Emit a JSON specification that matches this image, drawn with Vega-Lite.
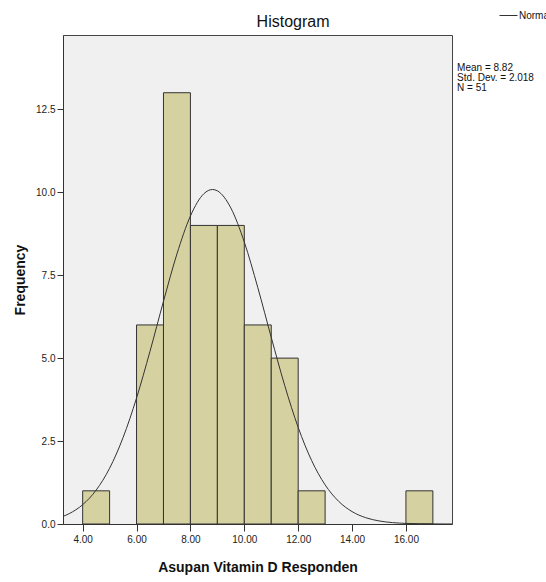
{
  "$schema": "https://vega.github.io/schema/vega-lite/v6.json",
  "width": 389,
  "height": 489,
  "autosize": {"type": "none"},
  "padding": {"left": 63, "top": 35, "right": 94, "bottom": 58},
  "background": "white",
  "datasets": {
    "bins": [
      {"start": 4, "end": 5, "count": 1},
      {"start": 6, "end": 7, "count": 6},
      {"start": 7, "end": 8, "count": 13},
      {"start": 8, "end": 9, "count": 9},
      {"start": 9, "end": 10, "count": 9},
      {"start": 10, "end": 11, "count": 6},
      {"start": 11, "end": 12, "count": 5},
      {"start": 12, "end": 13, "count": 1},
      {"start": 16, "end": 17, "count": 1}
    ],
    "curve": [
      {"x": 3.0, "y": 0.158},
      {"x": 3.5, "y": 0.312},
      {"x": 4.0, "y": 0.582},
      {"x": 4.5, "y": 1.020},
      {"x": 5.0, "y": 1.681},
      {"x": 5.5, "y": 2.605},
      {"x": 6.0, "y": 3.798},
      {"x": 6.5, "y": 5.207},
      {"x": 7.0, "y": 6.713},
      {"x": 7.5, "y": 8.141},
      {"x": 8.0, "y": 9.284},
      {"x": 8.5, "y": 9.957},
      {"x": 8.82, "y": 10.083},
      {"x": 9.0, "y": 10.043},
      {"x": 9.5, "y": 9.527},
      {"x": 10.0, "y": 8.499},
      {"x": 10.5, "y": 7.130},
      {"x": 11.0, "y": 5.627},
      {"x": 11.5, "y": 4.175},
      {"x": 12.0, "y": 2.913},
      {"x": 12.5, "y": 1.912},
      {"x": 13.0, "y": 1.180},
      {"x": 13.5, "y": 0.685},
      {"x": 14.0, "y": 0.374},
      {"x": 14.5, "y": 0.192},
      {"x": 15.0, "y": 0.093},
      {"x": 15.5, "y": 0.042},
      {"x": 16.0, "y": 0.018},
      {"x": 16.5, "y": 0.007},
      {"x": 17.0, "y": 0.003},
      {"x": 17.5, "y": 0.001},
      {"x": 18.0, "y": 0.0003}
    ]
  },
  "layer": [
    {
      "data": {"name": "bins"},
      "mark": {"type": "rect", "fill": "#D5D1A1", "stroke": "#333333", "strokeWidth": 1, "opacity": 1},
      "encoding": {
        "x": {
          "field": "start",
          "type": "quantitative",
          "scale": {"domain": [3.27, 17.71], "nice": false, "zero": false},
          "axis": {
            "values": [4, 6, 8, 10, 12, 14, 16],
            "format": ".2f",
            "title": "Asupan Vitamin D Responden"
          }
        },
        "x2": {"field": "end"},
        "y": {
          "field": "count",
          "type": "quantitative",
          "scale": {"domain": [0, 14.74], "nice": false},
          "axis": {
            "values": [0, 2.5, 5, 7.5, 10, 12.5],
            "format": ".1f",
            "title": "Frequency"
          }
        },
        "y2": {"datum": 0}
      }
    },
    {
      "data": {"name": "curve"},
      "mark": {"type": "line", "strokeWidth": 1, "interpolate": "monotone", "clip": true},
      "encoding": {
        "x": {"field": "x", "type": "quantitative"},
        "y": {"field": "y", "type": "quantitative"},
        "color": {
          "datum": "Normal",
          "type": "nominal",
          "scale": {"range": ["#333333"]},
          "legend": {
            "orient": "none",
            "legendX": 436,
            "legendY": -29,
            "title": null,
            "symbolType": "stroke",
            "symbolSize": 324,
            "symbolStrokeWidth": 1,
            "labelFont": "Liberation Sans",
            "labelFontSize": 10,
            "labelColor": "#111111",
            "labelOffset": 1,
            "padding": 0
          }
        }
      }
    },
    {
      "data": {"values": [{}]},
      "mark": {
        "type": "text",
        "align": "left",
        "baseline": "alphabetic",
        "font": "Liberation Sans",
        "fontSize": 10,
        "lineHeight": 10,
        "color": "#111111"
      },
      "encoding": {
        "x": {"datum": 17.9, "type": "quantitative"},
        "y": {"datum": 13.66, "type": "quantitative"},
        "text": {"value": ["Mean = 8.82", "Std. Dev. = 2.018", "N = 51"]}
      }
    },
    {
      "data": {"values": [{}]},
      "mark": {
        "type": "text",
        "align": "center",
        "baseline": "alphabetic",
        "font": "Liberation Sans",
        "fontSize": 16,
        "color": "#111111"
      },
      "encoding": {
        "x": {"datum": 11.81, "type": "quantitative"},
        "y": {"datum": 14.98, "type": "quantitative"},
        "text": {"value": "Histogram"}
      }
    }
  ],
  "config": {
    "view": {"stroke": "#444444", "strokeWidth": 1, "fill": "#F0F0F0"},
    "axis": {
      "grid": false,
      "domainColor": "#333333",
      "tickColor": "#333333",
      "labelFont": "Liberation Sans",
      "labelFontSize": 10,
      "labelColor": "#222222",
      "titleFont": "Liberation Sans",
      "titleFontSize": 14,
      "titleFontWeight": "bold",
      "titleColor": "#111111"
    },
    "axisX": {"tickSize": 7, "labelPadding": 3, "titlePadding": 16, "labelFlush": false},
    "axisY": {"tickSize": 6, "labelPadding": 2, "titlePadding": 8}
  }
}
